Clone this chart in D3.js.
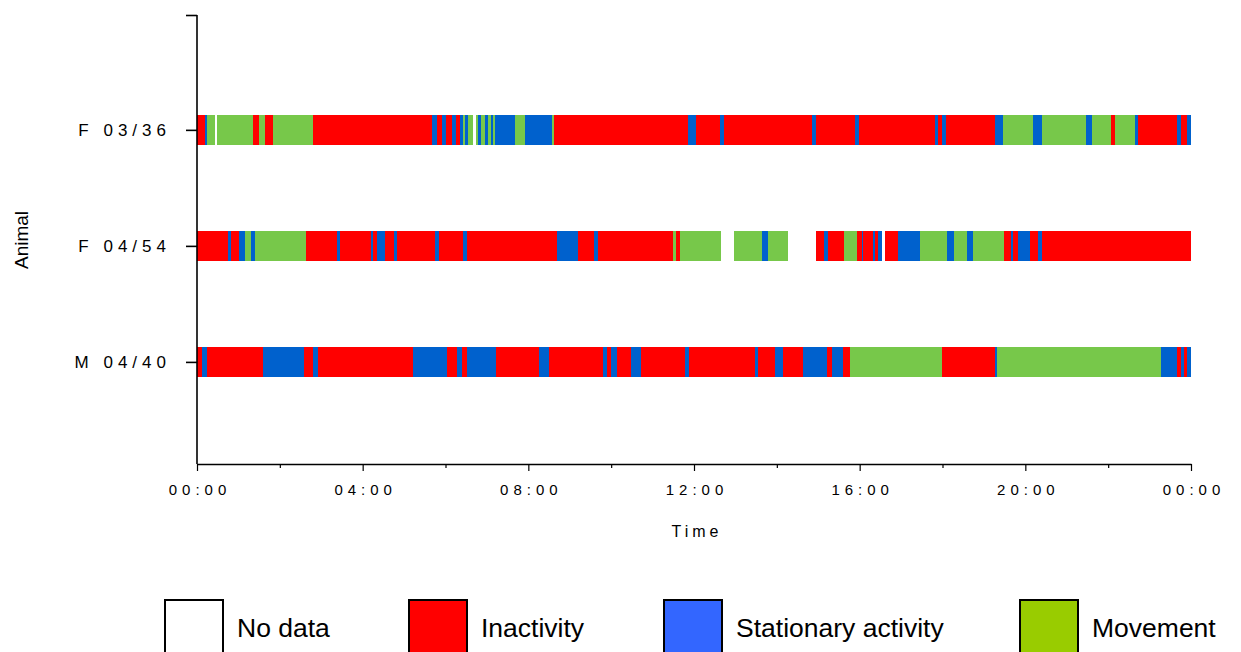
<!DOCTYPE html>
<html>
<head>
<meta charset="utf-8">
<script src="https://cdn.jsdelivr.net/npm/d3@7"></script>
<style>
  html, body { margin: 0; padding: 0; background: #fff; }
  svg { display: block; font-family: "Liberation Sans", Arial, sans-serif; }
</style>
</head>
<body>
<svg id="chart" width="1241" height="652"></svg>
<script>
// ---------- DATA ----------
const animals = ["M 04/40", "F 04/54", "F 03/36"];          // bottom -> top
const tickHours = [0, 2, 4, 6, 8, 10, 12, 14, 16, 18, 20, 22, 24];
const tickLabels = ["00:00", "", "04:00", "", "08:00", "", "12:00", "", "16:00", "", "20:00", "", "00:00"];
const stateNames = ["No data", "Inactivity", "Stationary activity", "Movement"];
const stateCodes = ["N", "I", "S", "M"];

// segment start times (hours) and states; each segment ends where the next starts, last ends at 24
const f0336Starts = [0, 0.19, 0.23, 0.43, 0.48, 1.36, 1.50, 1.64, 1.83, 2.79, 5.68, 5.79, 5.92, 6.00, 6.16, 6.25, 6.35, 6.42, 6.47, 6.55, 6.67, 6.73, 6.79, 6.86, 6.95, 7.02, 7.09, 7.14, 7.20, 7.68, 7.92, 8.56, 8.61, 11.86, 12.05, 12.63, 12.72, 14.84, 14.95, 15.89, 15.99, 17.82, 17.88, 17.98, 18.08, 19.27, 19.47, 20.19, 20.40, 21.46, 21.60, 22.06, 22.16, 22.65, 22.73, 23.65, 23.75, 23.90];
const f0336States = ["I", "S", "M", "N", "M", "I", "M", "I", "M", "I", "S", "I", "S", "I", "S", "I", "S", "M", "S", "M", "N", "M", "S", "M", "S", "M", "S", "M", "S", "M", "S", "M", "I", "S", "I", "S", "I", "S", "I", "S", "I", "S", "I", "S", "I", "S", "M", "S", "M", "S", "M", "I", "M", "S", "I", "S", "I", "S"];

const f0454Starts = [0, 0.74, 0.82, 1.01, 1.16, 1.30, 1.40, 2.62, 3.37, 3.45, 4.20, 4.26, 4.35, 4.54, 4.76, 4.84, 5.75, 5.84, 6.42, 6.51, 8.70, 9.21, 9.59, 9.69, 11.49, 11.57, 11.66, 12.64, 12.97, 13.65, 13.79, 14.28, 14.95, 15.14, 15.24, 15.62, 15.94, 16.05, 16.09, 16.31, 16.37, 16.45, 16.53, 16.61, 16.93, 17.46, 18.10, 18.28, 18.60, 18.74, 19.48, 19.65, 19.71, 19.83, 20.11, 20.31, 20.41];
const f0454States = ["I", "S", "I", "S", "M", "S", "M", "I", "S", "I", "S", "I", "S", "I", "S", "I", "S", "I", "S", "I", "S", "I", "S", "I", "M", "I", "M", "N", "M", "S", "M", "N", "I", "S", "I", "M", "I", "S", "I", "S", "I", "S", "N", "I", "S", "M", "S", "M", "S", "M", "I", "S", "I", "S", "I", "S", "I"];

const m0440Starts = [0, 0.11, 0.25, 1.60, 2.58, 2.81, 2.91, 5.22, 6.04, 6.28, 6.39, 6.53, 7.21, 8.26, 8.51, 9.80, 9.89, 10.00, 10.15, 10.48, 10.72, 11.78, 11.88, 13.47, 13.55, 13.96, 14.14, 14.62, 15.20, 15.34, 15.59, 15.77, 17.98, 19.27, 19.31, 23.28, 23.67, 23.77, 23.83, 23.91];
const m0440States = ["I", "S", "I", "S", "I", "S", "I", "S", "I", "S", "I", "S", "I", "S", "I", "S", "I", "S", "I", "S", "I", "S", "I", "S", "I", "S", "I", "S", "I", "S", "I", "M", "I", "S", "M", "S", "I", "S", "I", "S"];

// ---------- STYLE ----------
const barColor = { N: "#ffffff", I: "#ff0000", S: "#0061cd", M: "#77c84a" };
const legendColor = { N: "#ffffff", I: "#ff0000", S: "#3366ff", M: "#99cc00" };

// ---------- BUILD ----------
const rows = [
  { name: animals[0], starts: m0440Starts, states: m0440States },
  { name: animals[1], starts: f0454Starts, states: f0454States },
  { name: animals[2], starts: f0336Starts, states: f0336States }
];
const segments = [];
rows.forEach((r, ri) => {
  r.starts.forEach((s, i) => {
    const e = i + 1 < r.starts.length ? r.starts[i + 1] : 24;
    segments.push({ row: ri + 1, start: s, end: e, state: r.states[i] });
  });
});

const svg = d3.select("#chart");
const x = d3.scaleLinear().domain([0, 24]).range([197, 1191]);
const y = d3.scaleLinear().domain([0.12, 3.99]).range([464, 15]);
const barH = 30;

svg.append("g").selectAll("rect").data(segments).join("rect")
  .attr("x", d => x(d.start))
  .attr("width", d => Math.max(0, x(d.end) - x(d.start)))
  .attr("y", d => y(d.row) - barH / 2)
  .attr("height", barH)
  .attr("fill", d => barColor[d.state])
  .attr("shape-rendering", "crispEdges");

// y axis
const yAxis = d3.axisLeft(y)
  .tickValues([1, 2, 3, 3.99])
  .tickSize(11)
  .tickPadding(15)
  .tickFormat(v => (v > 3.5 ? "" : animals[Math.round(v) - 1]));
const gy = svg.append("g").attr("transform", `translate(${x(0)},0)`).call(yAxis);
gy.select(".domain").attr("d", `M0,${y(3.99)}V${y(0.12)}`).attr("stroke", "#000").attr("stroke-width", 1.6);
gy.selectAll(".tick line").attr("stroke", "#000").attr("stroke-width", 1.6);
gy.selectAll(".tick text")
  .attr("fill", "#000")
  .style("font-size", "17px")
  .style("letter-spacing", "5px");

// x axis
const xAxis = d3.axisBottom(x)
  .tickValues(tickHours)
  .tickSize(0)
  .tickPadding(20)
  .tickFormat((d, i) => tickLabels[i]);
const gx = svg.append("g").attr("transform", `translate(0,${y(0.12)})`).call(xAxis);
gx.select(".domain").attr("stroke", "#000").attr("stroke-width", 1.6);
gx.selectAll(".tick line")
  .attr("y2", (d, i) => tickLabels[i] ? 7 : 4)
  .attr("stroke", "#000").attr("stroke-width", 1.2);
gx.selectAll(".tick text")
  .attr("fill", "#000")
  .style("font-size", "15px")
  .style("letter-spacing", "5px")
  .attr("dx", "2.5px");

// axis titles
svg.append("text")
  .attr("transform", `translate(28,240) rotate(-90)`)
  .attr("text-anchor", "middle")
  .style("font-size", "19px")
  .text("Animal");
svg.append("text")
  .attr("x", 697).attr("y", 537)
  .attr("text-anchor", "middle")
  .style("font-size", "16px")
  .style("letter-spacing", "4px")
  .text("Time");

// legend
const legendX = [165, 409, 664, 1020];
const lg = svg.append("g").selectAll("g").data(stateCodes).join("g")
  .attr("transform", (d, i) => `translate(${legendX[i]},600)`);
lg.append("rect")
  .attr("width", 58).attr("height", 70)
  .attr("fill", d => legendColor[d])
  .attr("stroke", "#000").attr("stroke-width", 2);
lg.append("text")
  .attr("x", 72).attr("y", 37)
  .style("font-size", "26.5px")
  .text((d, i) => stateNames[i]);
</script>
</body>
</html>
